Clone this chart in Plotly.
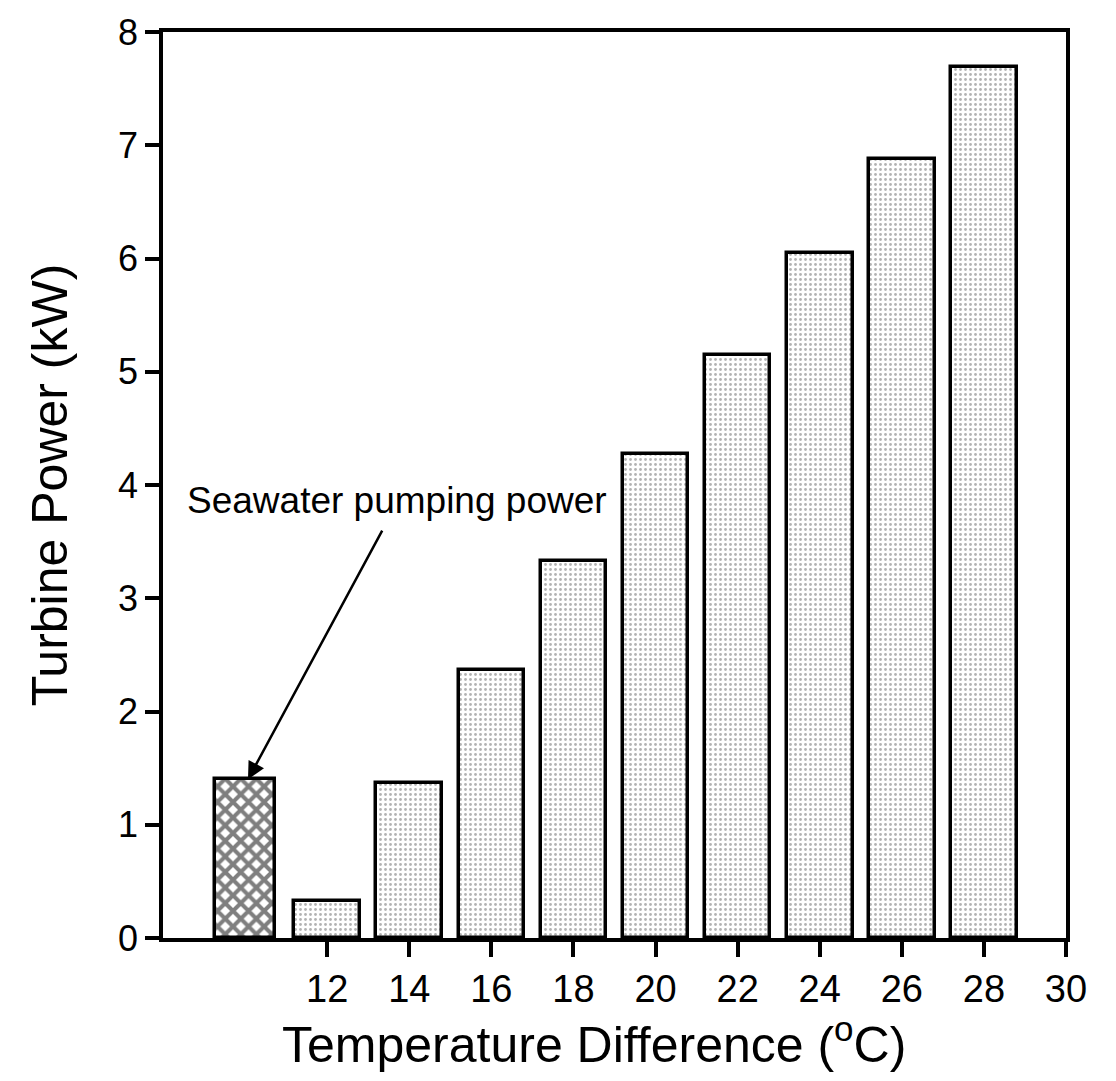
import plotly.graph_objects as go

# Data
pump_x = [10]
pump_power = [1.40]
temp_diff = [12, 14, 16, 18, 20, 22, 24, 26, 28]
turbine_power = [0.33, 1.37, 2.37, 3.33, 4.27, 5.15, 6.05, 6.88, 7.69]
x_ticks = [12, 14, 16, 18, 20, 22, 24, 26, 28, 30]
y_ticks = [0, 1, 2, 3, 4, 5, 6, 7, 8]

FONT = "Liberation Sans, Arial, sans-serif"

fig = go.Figure()
fig.add_trace(go.Bar(
    x=pump_x, y=pump_power, width=1.45,
    marker=dict(color="white",
                line=dict(color="black", width=3.5),
                pattern=dict(shape="x", fgcolor="black", bgcolor="white",
                             size=11, solidity=0.6)),
    showlegend=False,
))
fig.add_trace(go.Bar(
    x=temp_diff, y=turbine_power, width=1.6,
    marker=dict(color="white",
                line=dict(color="black", width=3.5),
                pattern=dict(shape=".", fgcolor="#666666", bgcolor="white",
                             size=5, solidity=0.25)),
    showlegend=False,
))

fig.add_annotation(
    x=10.07, y=1.40, ax=13.36, ay=3.61, xref="x", yref="y", axref="x", ayref="y",
    text="", showarrow=True, arrowhead=2, arrowsize=1.4, arrowwidth=2.5, arrowcolor="black",
)
fig.add_annotation(
    x=13.7, y=3.86, xref="x", yref="y", text="Seawater pumping power",
    showarrow=False, font=dict(family=FONT, size=37, color="black"),
)
# x-axis title (placed as annotation to match the reference's offset)
fig.add_annotation(
    x=0.477, y=-0.114, xref="paper", yref="paper",
    xanchor="center", yanchor="middle",
    text="Temperature Difference (<sup>o</sup>C)",
    showarrow=False, font=dict(family=FONT, size=50, color="black"),
)

fig.update_layout(
    width=1116, height=1081,
    margin=dict(l=163, r=50, t=24, b=143),
    paper_bgcolor="white", plot_bgcolor="white",
    font=dict(family=FONT, color="black"),
    bargap=0,
    xaxis=dict(
        range=[8, 30], tickvals=x_ticks, ticktext=[str(v) for v in x_ticks],
        showgrid=False, zeroline=False,
        showline=True, linecolor="black", linewidth=3.5, mirror=True,
        ticks="outside", ticklen=15, tickwidth=3.5, tickcolor="black",
        tickfont=dict(family=FONT, size=38),
    ),
    yaxis=dict(
        range=[0, 8], tickvals=y_ticks,
        showgrid=False, zeroline=False,
        showline=True, linecolor="black", linewidth=3.5, mirror=True,
        ticks="outside", ticklen=14, tickwidth=3.5, tickcolor="black",
        tickfont=dict(family=FONT, size=36),
        title=dict(text="Turbine Power (kW)", font=dict(family=FONT, size=50), standoff=36),
    ),
)

fig.write_html("out.html")
